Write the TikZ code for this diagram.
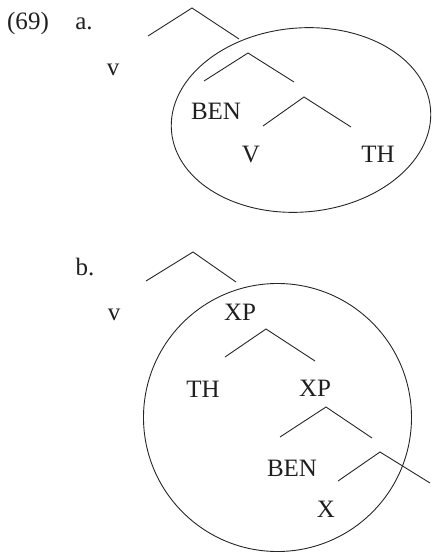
\documentclass[tikz,border=0pt]{standalone}
\usepackage{fontspec}
\setmainfont{Liberation Serif}
\begin{document}
\begin{tikzpicture}[x=1pt,y=-1pt,
  lbl/.style={anchor=base,inner sep=0pt,font=\fontsize{25}{29}\selectfont,text=black!88},
  br/.style={line width=0.9pt,draw=black!85},
  ring/.style={line width=0.9pt,draw=black!85}]
\useasboundingbox (0,0) rectangle (431,553);
% ---- (69a)
\node[lbl] (num) at (28,30) {(69)};
\node[lbl] (la) at (84,30) {a.};
\coordinate (a1l) at (148,36); \coordinate (a1t) at (192,8); \coordinate (a1r) at (239,39);
\draw[br] (a1l) -- (a1t) -- (a1r);
\node[lbl] (av) at (113,76) {v};
\draw[ring,rotate around={5:(301,120)}] (301,120) ellipse [x radius=130, y radius=92];
\coordinate (a2l) at (204,81); \coordinate (a2t) at (248,53); \coordinate (a2r) at (294,82);
\draw[br] (a2l) -- (a2t) -- (a2r);
\node[lbl] (aben) at (216,120) {BEN};
\coordinate (a3l) at (263,126); \coordinate (a3t) at (304,97); \coordinate (a3r) at (351,127);
\draw[br] (a3l) -- (a3t) -- (a3r);
\node[lbl] (aV) at (251,163) {V};
\node[lbl] (aTH) at (378,163) {TH};
% ---- (69b)
\node[lbl] (lb) at (85,275) {b.};
\coordinate (b1l) at (146,281); \coordinate (b1t) at (193,252); \coordinate (b1r) at (236,282);
\draw[br] (b1l) -- (b1t) -- (b1r);
\node[lbl] (bv) at (114,320) {v};
\node[lbl] (bxp) at (240,320) {XP};
\draw[ring] (277.5,417.5) circle [radius=134];
\coordinate (b2l) at (225,357); \coordinate (b2t) at (266,329); \coordinate (b2r) at (315,361);
\draw[br] (b2l) -- (b2t) -- (b2r);
\node[lbl] (bth) at (203,397) {TH};
\node[lbl] (bxp2) at (315,396) {XP};
\coordinate (b3l) at (280,437); \coordinate (b3t) at (326,407); \coordinate (b3r) at (372,438);
\draw[br] (b3l) -- (b3t) -- (b3r);
\node[lbl] (bben) at (292,476) {BEN};
\coordinate (b4l) at (338,481); \coordinate (b4t) at (380,452); \coordinate (b4r) at (430,483);
\draw[br] (b4l) -- (b4t) -- (b4r);
\node[lbl] (bX) at (326,517) {X};
\end{tikzpicture}
\end{document}
